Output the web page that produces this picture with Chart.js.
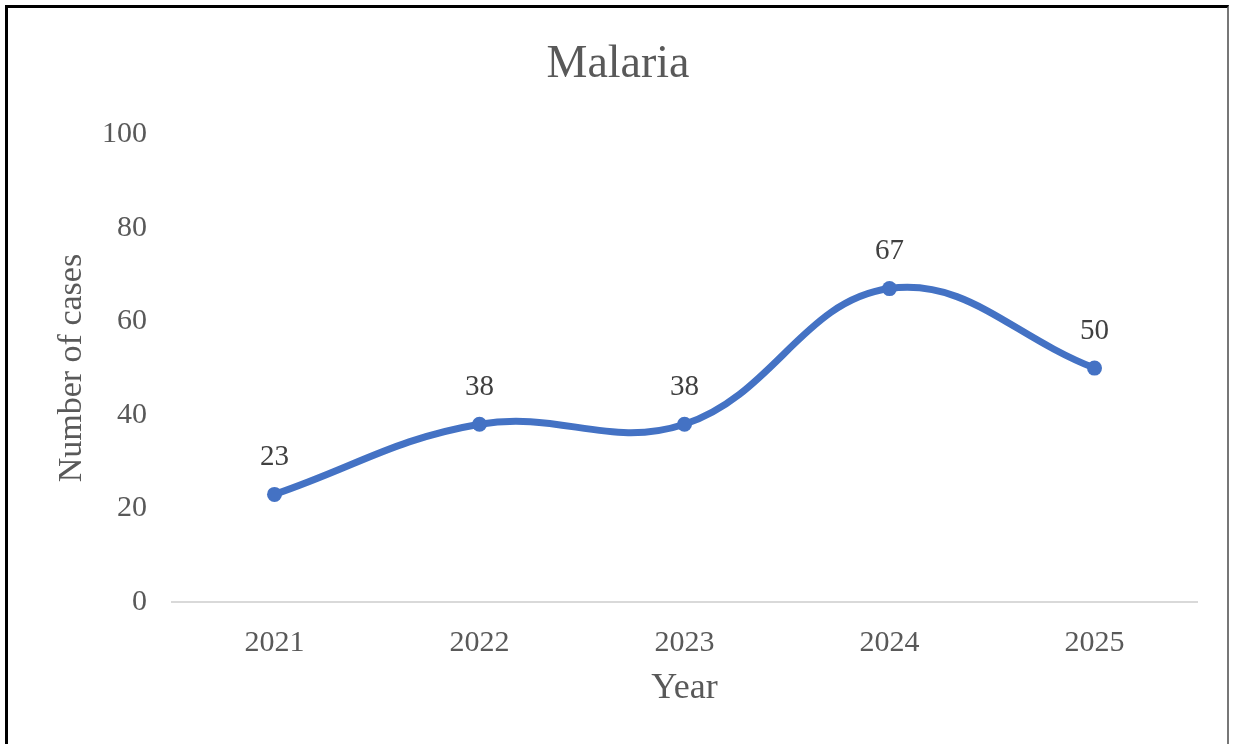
<!DOCTYPE html>
<html lang="en">
<head>
    <meta charset="UTF-8">
    <title>Malaria</title>
    <script src="https://cdn.jsdelivr.net/npm/chart.js"></script>
    <style>
        html, body { margin: 0; padding: 0; background: #fff; overflow: hidden; }
        #wrap { position: relative; width: 1236px; height: 744px; }
        #frame {
            position: absolute; left: 5px; top: 5px; width: 1224px; height: 760px;
            border-left: 3px solid #000; border-top: 3px solid #000; border-right: 2px solid #777;
            box-sizing: border-box; pointer-events: none;
        }
    </style>
</head>
<body>
<div id="wrap">
    <canvas id="malariaChart" width="1236" height="744"></canvas>
    <div id="frame"></div>
</div>
<script>
    const years = ['2021', '2022', '2023', '2024', '2025'];
    const cases = [23, 38, 38, 67, 50];
    const yTicks = [0, 20, 40, 60, 80, 100];

    const serif = "'Liberation Serif', 'Times New Roman', serif";

    // labels above each point, like Excel data labels
    const pointLabels = {
        id: 'pointLabels',
        afterDatasetsDraw(chart) {
            const ctx = chart.ctx;
            const meta = chart.getDatasetMeta(0);
            ctx.save();
            ctx.font = '29px ' + serif;
            ctx.fillStyle = '#404040';
            ctx.textAlign = 'center';
            ctx.textBaseline = 'middle';
            meta.data.forEach((pt, i) => {
                ctx.fillText(String(cases[i]), pt.x, pt.y - 37);
            });
            ctx.restore();
        }
    };

    const ctx = document.getElementById('malariaChart').getContext('2d');
    new Chart(ctx, {
        type: 'line',
        data: {
            labels: years,
            datasets: [{
                label: 'Malaria',
                data: cases,
                borderColor: '#4472C4',
                backgroundColor: '#4472C4',
                borderWidth: 7,
                pointRadius: 7.5,
                pointBorderWidth: 0,
                tension: 0.4,
                fill: false
            }]
        },
        options: {
            responsive: false,
            animation: false,
            layout: { padding: { left: 39, right: 39, top: 0, bottom: 0 } },
            plugins: {
                legend: { display: false },
                tooltip: { enabled: false },
                title: {
                    display: true,
                    text: 'Malaria',
                    color: '#595959',
                    font: { family: serif, size: 46, weight: 'normal', lineHeight: 1.2 },
                    padding: { top: 37, bottom: 42 }
                }
            },
            scales: {
                x: {
                    offset: true,
                    grid: { display: false },
                    border: { display: true, color: '#d9d9d9', width: 2 },
                    ticks: { color: '#595959', padding: 15, font: { family: serif, size: 30 } },
                    title: {
                        display: true, text: 'Year', color: '#595959',
                        font: { family: serif, size: 36, lineHeight: 1.2 },
                        padding: { top: 0, bottom: 34 }
                    },
                    afterFit(s) { s.height = 142; }
                },
                y: {
                    min: 0,
                    max: 100,
                    afterBuildTicks(s) { s.ticks = yTicks.map(v => ({ value: v })); },
                    grid: { display: false },
                    border: { display: false },
                    ticks: { color: '#595959', padding: 17, font: { family: serif, size: 30 } },
                    title: {
                        display: true, text: 'Number of cases', color: '#595959',
                        font: { family: serif, size: 34, lineHeight: 1.2 },
                        padding: { top: 13, bottom: 0 }
                    },
                    afterFit(s) { s.width = 133; }
                }
            }
        },
        plugins: [pointLabels]
    });
</script>
</body>
</html>
